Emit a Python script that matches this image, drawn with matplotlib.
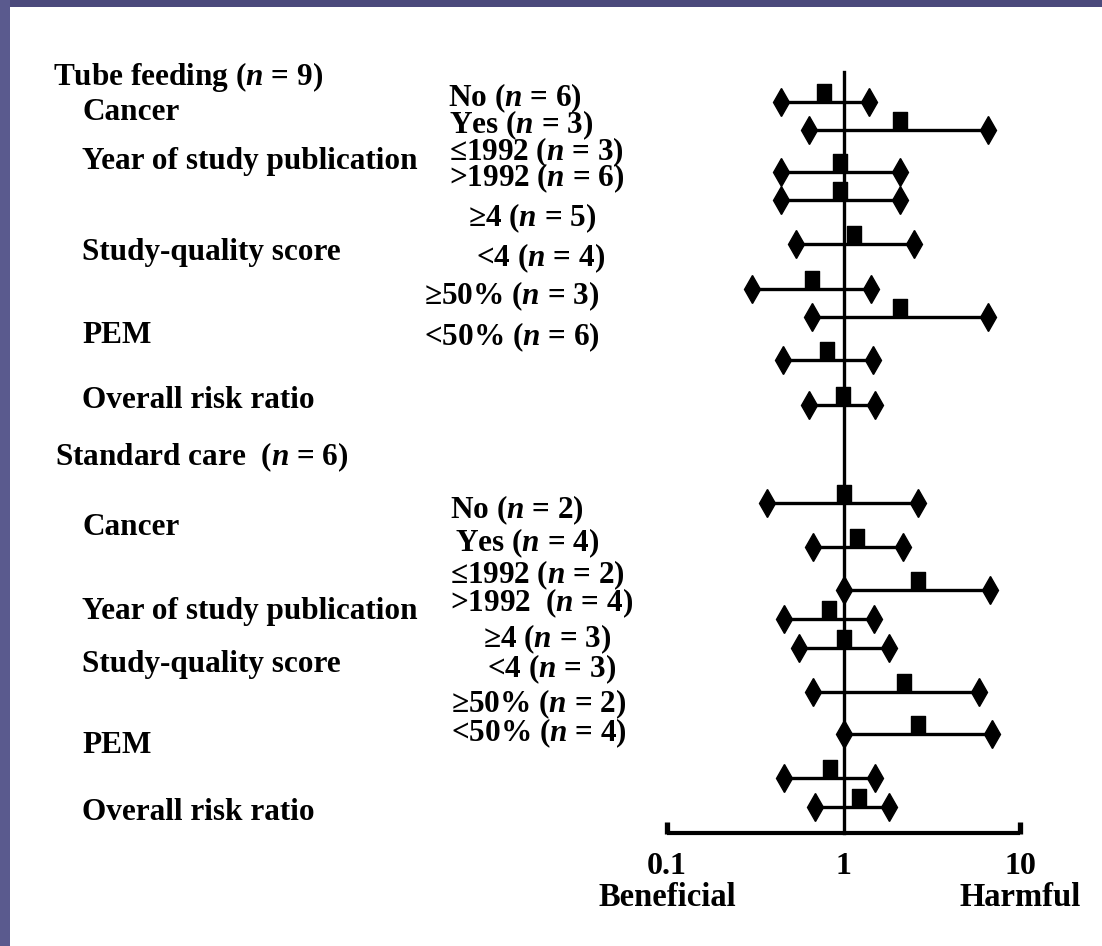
import matplotlib
matplotlib.use("Agg")
import matplotlib.pyplot as plt
from matplotlib.path import Path
from matplotlib.patches import Rectangle

# ---- data: risk ratios with confidence limits -------------------------------
tube_labels = ["No (n = 6)", "Yes (n = 3)", "≤1992 (n = 3)", ">1992 (n = 6)",
               "≥4 (n = 5)", "<4 (n = 4)", "≥50% (n = 3)", "<50% (n = 6)",
               "Overall"]
tube_rr = [0.78, 2.08, 0.96, 0.96, 1.15, 0.66, 2.10, 0.81, 0.99]
tube_lo = [0.445, 0.64, 0.445, 0.445, 0.535, 0.305, 0.66, 0.457, 0.64]
tube_hi = [1.40, 6.63, 2.08, 2.08, 2.52, 1.44, 6.63, 1.46, 1.50]

care_labels = ["No (n = 2)", "Yes (n = 4)", "≤1992 (n = 2)", ">1992  (n = 4)",
               "≥4 (n = 3)", "<4 (n = 3)", "≥50% (n = 2)", "<50% (n = 4)",
               "Overall"]
care_rr = [1.00, 1.20, 2.63, 0.83, 1.01, 2.19, 2.66, 0.84, 1.22]
care_lo = [0.371, 0.676, 1.00, 0.46, 0.556, 0.676, 1.00, 0.46, 0.69]
care_hi = [2.63, 2.16, 6.72, 1.48, 1.80, 5.82, 6.90, 1.50, 1.82]

factor_labels = ["Cancer", "Year of study publication", "Study-quality score",
                 "PEM", "Overall risk ratio"]
group_titles = ["Tube feeding (n = 9)", "Standard care  (n = 6)"]
tick_values = [0.1, 1, 10]
tick_labels = ["0.1", "1", "10"]
end_labels = ["Beneficial", "Harmful"]

# ---- layout (pixel units of the canvas) -------------------------------------
W, H = 1102, 946
tube_rows = [102, 130, 172, 200, 244, 289, 317, 360, 405]
care_rows = [503, 547, 590, 619, 648, 692, 734, 778, 807]
tube_factor_y = [113, 162, 252, 335, 400]
care_factor_y = [527, 611, 664, 745, 812]
tube_sub_xy = [(448, 98), (449, 125), (449, 152), (449, 178),
               (468, 218), (476, 258), (424, 296), (424, 337)]
care_sub_xy = [(450, 510), (455, 543), (450, 575), (450, 603),
               (483, 639), (487, 669), (451, 704), (451, 733)]
title_xy = [(53, 77), (55, 457)]
axis_y = 833
ref_top = 72

serif = ["Liberation Serif", "DejaVu Serif"]
plt.rcParams["mathtext.fontset"] = "custom"
plt.rcParams["mathtext.it"] = "Liberation Serif:italic:bold"
plt.rcParams["mathtext.rm"] = "Liberation Serif:bold"
plt.rcParams["mathtext.bf"] = "Liberation Serif:bold"
fs = 22.5

fig = plt.figure(figsize=(W / 100, H / 100), dpi=100)
fig.patch.set_facecolor("white")

# canvas axes for text and frame, measured in pixels
bg = fig.add_axes([0, 0, 1, 1])
bg.set_xlim(0, W)
bg.set_ylim(H, 0)
bg.axis("off")
bg.add_patch(Rectangle((0, 0), W, 7, color="#4b4a7c", lw=0))
bg.add_patch(Rectangle((0, 0), 10, H, color="#5a5a8e", lw=0))


def italic_n(s):
    return s.replace("n =", "$n$ =")


def label(x, y, s):
    bg.text(x, y, italic_n(s), ha="left", va="center", family=serif,
            fontweight="bold", fontsize=fs, color="black")


for (x, y), t in zip(title_xy, group_titles):
    label(x, y, t)
for ys in (tube_factor_y, care_factor_y):
    for y, t in zip(ys, factor_labels):
        label(82, y, t)
for xy, labs in ((tube_sub_xy, tube_labels), (care_sub_xy, care_labels)):
    for (x, y), t in zip(xy, labs[:-1]):
        label(x, y, t)

# forest axes: log scale spanning 0.1 .. 10
x0, x1 = 667, 1020
ax = fig.add_axes([x0 / W, 0, (x1 - x0) / W, 1])
ax.set_xscale("log")
ax.set_xlim(0.1, 10)
ax.set_ylim(H, 0)
ax.axis("off")
ax.patch.set_alpha(0)

lw = 2.4
# reference line at a risk ratio of 1
ax.plot([1, 1], [ref_top, axis_y], color="black", lw=lw, clip_on=False)
# horizontal scale with end ticks
ax.plot([0.1, 10], [axis_y, axis_y], color="black", lw=lw + 0.6,
        clip_on=False, solid_capstyle="butt")
for v in (tick_values[0], tick_values[-1]):
    ax.plot([v, v], [axis_y + 1, axis_y - 11], color="black", lw=lw + 1.4,
            clip_on=False, solid_capstyle="butt")
for v, t in zip(tick_values, tick_labels):
    ax.text(v, 866, t, ha="center", va="center", family=serif,
            fontweight="heavy", fontsize=23, clip_on=False)
ax.text(tick_values[0], 897, end_labels[0], ha="center", va="center",
        family=serif, fontweight="heavy", fontsize=23.5, clip_on=False)
ax.text(tick_values[-1], 897, end_labels[1], ha="center", va="center",
        family=serif, fontweight="heavy", fontsize=23.5, clip_on=False)

# point-estimate block sitting on top of the interval line
block = Path([(-0.38, 0), (0.38, 0), (0.38, 1.0), (-0.38, 1.0), (-0.38, 0)],
             closed=True)

for rows, rr, lo, hi in ((tube_rows, tube_rr, tube_lo, tube_hi),
                         (care_rows, care_rr, care_lo, care_hi)):
    for y, r, l, h in zip(rows, rr, lo, hi):
        ax.plot([l, h], [y, y], color="black", lw=lw, clip_on=False,
                solid_capstyle="butt")
        ax.plot([l, h], [y, y], ls="none", marker="d", ms=14,
                color="black", clip_on=False)
        ax.plot([r], [y], ls="none", marker=block, ms=26, color="black",
                clip_on=False)

fig.savefig("out.png", dpi=100, facecolor="white")
